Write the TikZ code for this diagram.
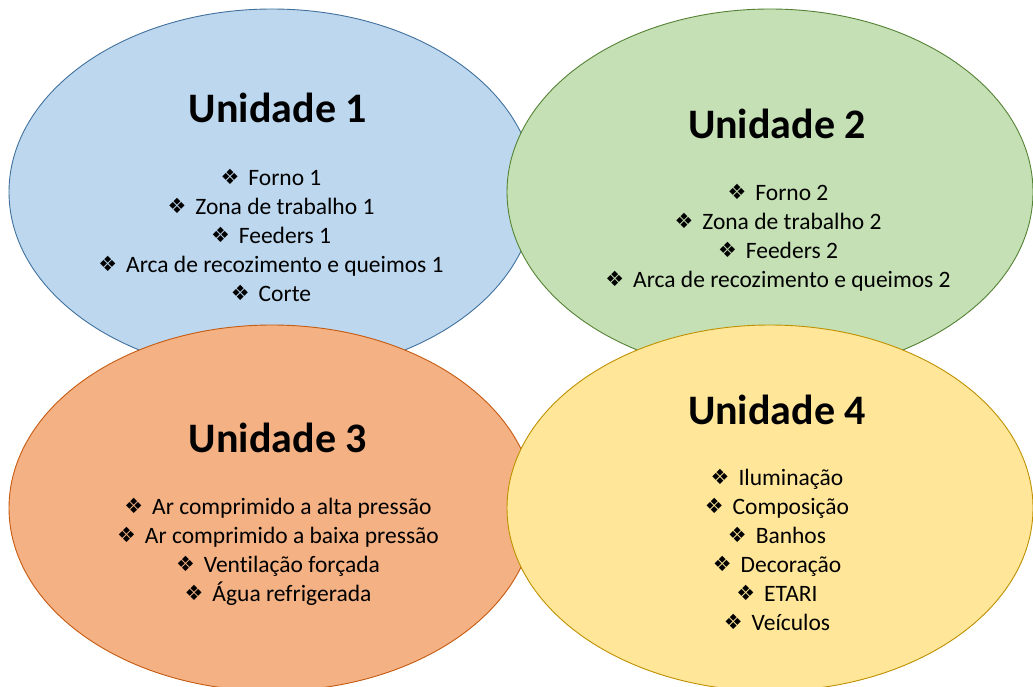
\documentclass[tikz,border=0pt]{standalone}
\usepackage{fontspec}
\setmainfont[Ligatures={NoCommon}]{Carlito}
\newfontfamily\symfont{DejaVu Sans}
\usetikzlibrary{shapes.geometric}
\definecolor{fillA}{HTML}{BDD7EE}\definecolor{lineA}{HTML}{41719C}
\definecolor{fillB}{HTML}{C5E0B4}\definecolor{lineB}{HTML}{548235}
\definecolor{fillC}{HTML}{F4B183}\definecolor{lineC}{HTML}{C55A11}
\definecolor{fillD}{HTML}{FFE699}\definecolor{lineD}{HTML}{BF9000}
\newcommand{\bul}{\raisebox{1pt}{\symfont\fontsize{21}{21}\selectfont ❖}\hspace{9pt}}
\tikzset{
  unit/.style={ellipse, minimum width=526pt, minimum height=366pt, inner sep=0pt, line width=0.9pt},
  title/.style={font=\fontsize{42}{50}\selectfont\bfseries, inner sep=0pt},
  items/.style={font=\fontsize{23.5}{29}\selectfont, align=center, inner sep=0pt}
}
\begin{document}
\begin{tikzpicture}[x=1pt,y=-1pt]
\useasboundingbox (0,0) rectangle (1033,686);
\node[unit, fill=fillA, draw=lineA] (u1) at (272,192) {};
\node[unit, fill=fillB, draw=lineB] (u2) at (770,192) {};
\node[unit, fill=fillC, draw=lineC] (u3) at (272,508) {};
\node[unit, fill=fillD, draw=lineD] (u4) at (770,508) {};
\node[title] (t1) at (278,108) {Unidade 1};
\node[title] (t2) at (777,124) {Unidade 2};
\node[title] (t3) at (278,438) {Unidade 3};
\node[title] (t4) at (777,410) {Unidade 4};
\node[items] (l1) at (271,235) {\bul Forno 1\\\bul Zona de trabalho 1\\\bul Feeders 1\\\bul Arca de recozimento e queimos 1\\\bul Corte};
\node[items] (l2) at (778,238) {\bul Forno 2\\\bul Zona de trabalho 2\\\bul Feeders 2\\\bul Arca de recozimento e queimos 2};
\node[items] (l3) at (278,552) {\bul Ar comprimido a alta pressão\\\bul Ar comprimido a baixa pressão\\\bul Ventilação forçada\\\bul Água refrigerada};
\node[items] (l4) at (777,550) {\bul Iluminação\\\bul Composição\\\bul Banhos\\\bul Decoração\\\bul ETARI\\\bul Veículos};
\end{tikzpicture}
\end{document}
